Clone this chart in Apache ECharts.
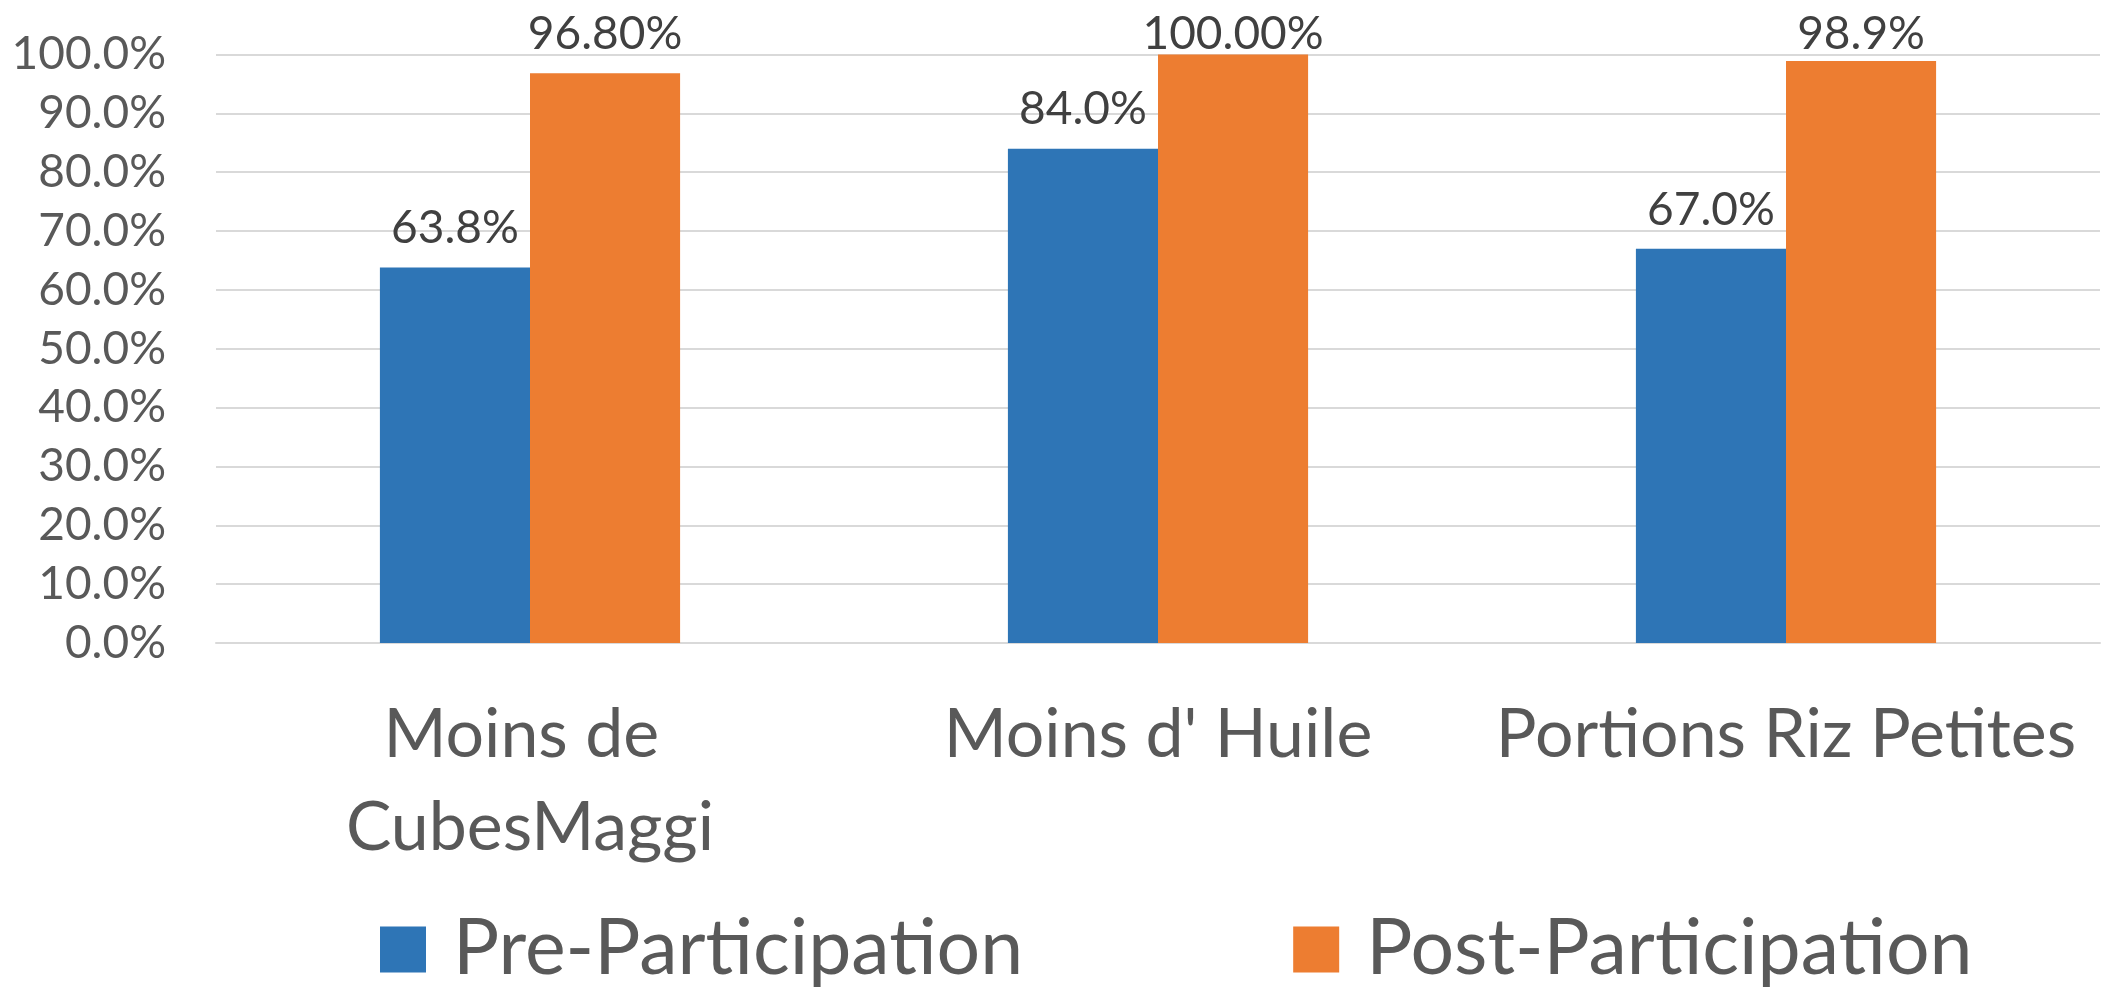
<!DOCTYPE html>
<html><head><meta charset="utf-8">
<script src="https://cdn.jsdelivr.net/npm/echarts@6/dist/echarts.min.js"></script>
<style>html,body{margin:0;padding:0;background:#fff}#c{width:2105px;height:987px}</style>
</head><body><div id="c"></div>
<script>
const categories = ["Moins de CubesMaggi", "Moins d' Huile", "Portions Riz Petites"];
const seriesNames = ["Pre-Participation", "Post-Participation"];
const preValues = [63.8, 84.0, 67.0];
const postValues = [96.8, 100.0, 98.9];
const preLabels = ["63.8%", "84.0%", "67.0%"];
const postLabels = ["96.80%", "100.00%", "98.9%"];
const yTicks = [0, 10, 20, 30, 40, 50, 60, 70, 80, 90, 100];

const FONT = "Lato";
const LABEL_MIN_TOP = 11;
const chart = echarts.init(document.getElementById('c'), null, {renderer: 'canvas'});
const clampLayout = function (params) {
  const r = params.labelRect;
  if (r.y < LABEL_MIN_TOP) {
    return {x: r.x + r.width / 2, y: LABEL_MIN_TOP, align: 'center', verticalAlign: 'top'};
  }
  return {};
};
chart.setOption({
  backgroundColor: '#ffffff',
  animation: false,
  grid: {left: 216, right: 5, top: 54.5, bottom: 344, containLabel: false},
  legend: {
    left: 375, top: 906,
    itemWidth: 46, itemHeight: 46, itemGap: 270,
    icon: 'rect',
    textStyle: {fontFamily: FONT, fontSize: 77, color: '#595959', padding: [0, 0, 0, 22]},
    data: seriesNames
  },
  xAxis: {
    type: 'category', data: categories,
    axisLine: {lineStyle: {color: '#d9d9d9', width: 2}},
    axisTick: {show: false},
    axisLabel: {fontFamily: FONT, fontSize: 68, color: '#595959', margin: 46, lineHeight: 93,
      width: 610, overflow: 'break', interval: 0}
  },
  yAxis: {
    type: 'value', min: yTicks[0], max: yTicks[yTicks.length - 1], interval: yTicks[1] - yTicks[0],
    axisLine: {show: false}, axisTick: {show: false},
    splitLine: {lineStyle: {color: '#d9d9d9', width: 2}},
    axisLabel: {fontFamily: FONT, fontSize: 46, color: '#595959', margin: 50,
      formatter: v => v.toFixed(1) + '%'}
  },
  series: [
    {name: seriesNames[0], type: 'bar', data: preValues, barGap: '0%', barCategoryGap: '52.2%',
      itemStyle: {color: '#2E75B6'},
      label: {show: true, position: 'top', distance: 16, fontFamily: FONT, fontSize: 46, color: '#404040',
        formatter: p => preLabels[p.dataIndex]},
      labelLayout: clampLayout},
    {name: seriesNames[1], type: 'bar', data: postValues,
      itemStyle: {color: '#ED7D31'},
      label: {show: true, position: 'top', distance: 16, fontFamily: FONT, fontSize: 46, color: '#404040',
        formatter: p => postLabels[p.dataIndex]},
      labelLayout: clampLayout}
  ]
});
</script></body></html>
